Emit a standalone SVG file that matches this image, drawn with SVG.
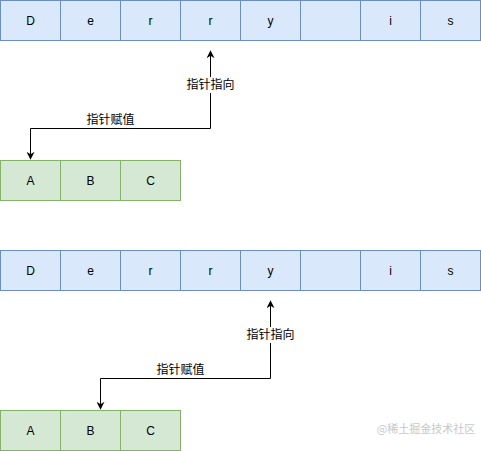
<svg xmlns="http://www.w3.org/2000/svg" width="481" height="451" viewBox="0 0 481 451">
<style>
.b{fill:#dae8fc;stroke:#6c8ebf;stroke-width:1}
.g{fill:#d5e8d4;stroke:#82b366;stroke-width:1}
.t{font-family:"Liberation Sans",Arial,sans-serif;font-size:12px;fill:#000;text-anchor:middle;dominant-baseline:central}
.l{font-family:"Liberation Sans","Noto Sans CJK SC",sans-serif;font-size:12px;fill:#000;text-anchor:middle;dominant-baseline:central}
.c{fill:none;stroke:#000;stroke-width:1}
.lb{fill:#fff}
</style>
<defs>
<marker id="ah" viewBox="0 0 10 10" refX="9" refY="5" markerWidth="8" markerHeight="8" markerUnits="userSpaceOnUse" orient="auto">
<path d="M0,0 L10,5 L0,10 L3,5 Z" fill="#000"/>
</marker>
</defs>
<rect width="481" height="451" fill="#fff"/>
<g id="top-row">
<g id="t0"><rect class="b" x="0.5" y="0.5" width="60" height="40"/><text class="t" x="30.5" y="20.5">D</text></g>
<g id="t1"><rect class="b" x="60.5" y="0.5" width="60" height="40"/><text class="t" x="90.5" y="20.5">e</text></g>
<g id="t2"><rect class="b" x="120.5" y="0.5" width="60" height="40"/><text class="t" x="150.5" y="20.5">r</text></g>
<g id="t3"><rect class="b" x="180.5" y="0.5" width="60" height="40"/><text class="t" x="210.5" y="20.5">r</text></g>
<g id="t4"><rect class="b" x="240.5" y="0.5" width="60" height="40"/><text class="t" x="270.5" y="20.5">y</text></g>
<g id="t5"><rect class="b" x="300.5" y="0.5" width="60" height="40"/></g>
<g id="t6"><rect class="b" x="360.5" y="0.5" width="60" height="40"/><text class="t" x="390.5" y="20.5">i</text></g>
<g id="t7"><rect class="b" x="420.5" y="0.5" width="60" height="40"/><text class="t" x="450.5" y="20.5">s</text></g>
</g>
<g id="top-abc">
<g id="ta"><rect class="g" x="0.5" y="160.5" width="60" height="40"/><text class="t" x="30.5" y="180.5">A</text></g>
<g id="tb"><rect class="g" x="60.5" y="160.5" width="60" height="40"/><text class="t" x="90.5" y="180.5">B</text></g>
<g id="tc"><rect class="g" x="120.5" y="160.5" width="60" height="40"/><text class="t" x="150.5" y="180.5">C</text></g>
</g>
<g id="bottom-row">
<g id="b0"><rect class="b" x="0.5" y="250.5" width="60" height="40"/><text class="t" x="30.5" y="270.5">D</text></g>
<g id="b1"><rect class="b" x="60.5" y="250.5" width="60" height="40"/><text class="t" x="90.5" y="270.5">e</text></g>
<g id="b2"><rect class="b" x="120.5" y="250.5" width="60" height="40"/><text class="t" x="150.5" y="270.5">r</text></g>
<g id="b3"><rect class="b" x="180.5" y="250.5" width="60" height="40"/><text class="t" x="210.5" y="270.5">r</text></g>
<g id="b4"><rect class="b" x="240.5" y="250.5" width="60" height="40"/><text class="t" x="270.5" y="270.5">y</text></g>
<g id="b5"><rect class="b" x="300.5" y="250.5" width="60" height="40"/></g>
<g id="b6"><rect class="b" x="360.5" y="250.5" width="60" height="40"/><text class="t" x="390.5" y="270.5">i</text></g>
<g id="b7"><rect class="b" x="420.5" y="250.5" width="60" height="40"/><text class="t" x="450.5" y="270.5">s</text></g>
</g>
<g id="bottom-abc">
<g id="ba"><rect class="g" x="0.5" y="410.5" width="60" height="40"/><text class="t" x="30.5" y="430.5">A</text></g>
<g id="bb"><rect class="g" x="60.5" y="410.5" width="60" height="40"/><text class="t" x="90.5" y="430.5">B</text></g>
<g id="bc"><rect class="g" x="120.5" y="410.5" width="60" height="40"/><text class="t" x="150.5" y="430.5">C</text></g>
</g>
<g id="connectors">
<path class="c" d="M210.5,128.5 V51" marker-end="url(#ah)"/>
<path class="c" d="M210.5,128.5 H30.5 V159" marker-end="url(#ah)"/>
<rect class="lb" x="184" y="77" width="53" height="16"/>
<text class="l" x="210.5" y="85">指针指向</text>
<text class="l" x="110.5" y="119.5">指针赋值</text>
<path class="c" d="M270.5,378.5 V301" marker-end="url(#ah)"/>
<path class="c" d="M270.5,378.5 H100.5 V409" marker-end="url(#ah)"/>
<rect class="lb" x="244" y="327" width="53" height="16"/>
<text class="l" x="270.5" y="335">指针指向</text>
<text class="l" x="180.5" y="369.5">指针赋值</text>
</g>
<text x="426" y="433" font-family="'Noto Sans CJK SC',sans-serif" font-size="11" fill="#c8c8c8" text-anchor="middle">@稀土掘金技术社区</text>
</svg>
